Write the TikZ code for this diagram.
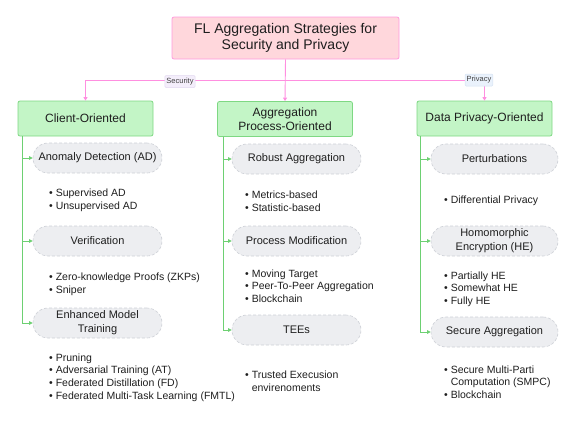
\documentclass[tikz,border=0pt]{standalone}
\usepackage{fontspec}
\setmainfont{Liberation Sans}
\usetikzlibrary{arrows.meta,calc}
\definecolor{pinkfill}{HTML}{FFD7DC}
\definecolor{pinkdraw}{HTML}{FF9BDC}
\definecolor{pinkline}{HTML}{FF8FE0}
\definecolor{greenfill}{HTML}{C3F5C6}
\definecolor{greendraw}{HTML}{7ED883}
\definecolor{greenline}{HTML}{6DD072}
\definecolor{ellfill}{HTML}{EDEEF1}
\definecolor{elldraw}{HTML}{CDD0D6}
\definecolor{secfill}{HTML}{F4EEFB}
\definecolor{secdraw}{HTML}{E2D8F0}
\definecolor{privfill}{HTML}{EAF2FC}
\definecolor{privdraw}{HTML}{D6E2F2}
\definecolor{txt}{HTML}{1E1E1E}
\begin{document}
\begin{tikzpicture}[x=1pt,y=-1pt,
 rootbox/.style={draw=pinkdraw, fill=pinkfill, line width=0.8pt, rounded corners=2pt, minimum width=227pt, minimum height=42pt, align=center, font=\fontsize{14}{16.5}\selectfont, text=txt, inner sep=0pt},
 catbox/.style={draw=greendraw, fill=greenfill, line width=0.8pt, rounded corners=2pt, minimum width=135pt, minimum height=35pt, align=center, font=\fontsize{12}{14.5}\selectfont, text=txt, inner sep=0pt},
 pill/.style={draw=elldraw, dash pattern=on 3pt off 2pt, line width=0.6pt, fill=ellfill, rounded corners=15pt, minimum width=129pt, minimum height=30pt, align=center, font=\fontsize{11}{14}\selectfont, text=txt, inner sep=0pt},
 items/.style={anchor=west, align=left, font=\fontsize{10.5}{12.7}\selectfont, text=txt, inner sep=0pt, yshift=-1.5pt},
 pinkarrow/.style={draw=pinkline, line width=0.9pt, -{Triangle[length=3.5pt,width=4pt]}},
 greenarrow/.style={draw=greenline, line width=0.8pt, -{Triangle[length=3.5pt,width=3.5pt]}},
 edgelabel/.style={font=\fontsize{7.5}{9}\selectfont, text=txt!85, inner sep=1.5pt, rounded corners=1pt, line width=0.5pt, minimum height=12pt}
]
\useasboundingbox (0,0) rectangle (581,429);

% root and categories
\node[rootbox] (root) at (285.5,38) {FL Aggregation Strategies for\\Security and Privacy};
\node[catbox] (cl) at (85.5,118.5) {Client-Oriented};
\node[catbox] (ap) at (285,119) {Aggregation\\Process-Oriented};
\node[catbox] (dp) at (484.5,118.5) {Data Privacy-Oriented};

% pink connectors
\coordinate (split) at (285.5,80);
\draw[pinkarrow] (root.south) -- (ap.north);
\draw[pinkarrow] (split) -| (cl.north);
\draw[pinkarrow] (split) -| (dp.north);
\node[edgelabel, fill=secfill, draw=secdraw] (seclab) at (180,81.5) {Security};
\node[edgelabel, fill=privfill, draw=privdraw] (privlab) at (479,80) {Privacy};

% left column
\node[pill] (ad) at (97.5,158) {Anomaly Detection (AD)};
\node[pill] (ver) at (97.5,241) {Verification};
\node[pill] (emt) at (97.5,323) {Enhanced Model\\Training};
\node[items] (adl) at (49,198.5) {• Supervised AD\\• Unsupervised AD};
\node[items] (verl) at (49,283) {• Zero-knowledge Proofs (ZKPs)\\• Sniper};
\node[items] (emtl) at (49,376) {• Pruning\\• Adversarial Training (AT)\\• Federated Distillation (FD)\\• Federated Multi-Task Learning (FMTL)};
\draw[greenarrow] ([xshift=5pt]cl.south west) |- (ad.west);
\draw[greenarrow] ([xshift=5pt]cl.south west) |- (ver.west);
\draw[greenarrow] ([xshift=5pt]cl.south west) |- (emt.west);

% middle column
\node[pill] (ra) at (296.5,159) {Robust Aggregation};
\node[pill] (pm) at (296.5,241) {Process Modification};
\node[pill] (tee) at (296.5,330) {TEEs};
\node[items] (ral) at (245,199.5) {• Metrics-based\\• Statistic-based};
\node[items] (pml) at (245,284.5) {• Moving Target\\• Peer-To-Peer Aggregation\\• Blockchain};
\node[items] (teel) at (245,379.5) {• Trusted Execusion\\\phantom{• }envirenoments};
\draw[greenarrow] ([xshift=6pt]ap.south west) |- (ra.west);
\draw[greenarrow] ([xshift=6pt]ap.south west) |- (pm.west);
\draw[greenarrow] ([xshift=6pt]ap.south west) |- (tee.west);

% right column
\node[pill, minimum width=127pt] (pert) at (494.5,159) {Perturbations};
\node[pill, minimum width=127pt] (he) at (494.5,241) {Homomorphic\\Encryption (HE)};
\node[pill, minimum width=127pt] (sa) at (494.5,332) {Secure Aggregation};
\node[items] (pertl) at (444,199) {• Differential Privacy};
\node[items] (hel) at (444,287.5) {• Partially HE\\• Somewhat HE\\• Fully HE};
\node[items] (sal) at (444,380.5) {• Secure Multi-Parti\\\phantom{• }Computation (SMPC)\\• Blockchain};
\draw[greenarrow] ([xshift=4pt]dp.south west) |- (pert.west);
\draw[greenarrow] ([xshift=4pt]dp.south west) |- (he.west);
\draw[greenarrow] ([xshift=4pt]dp.south west) |- (sa.west);
\end{tikzpicture}
\end{document}
